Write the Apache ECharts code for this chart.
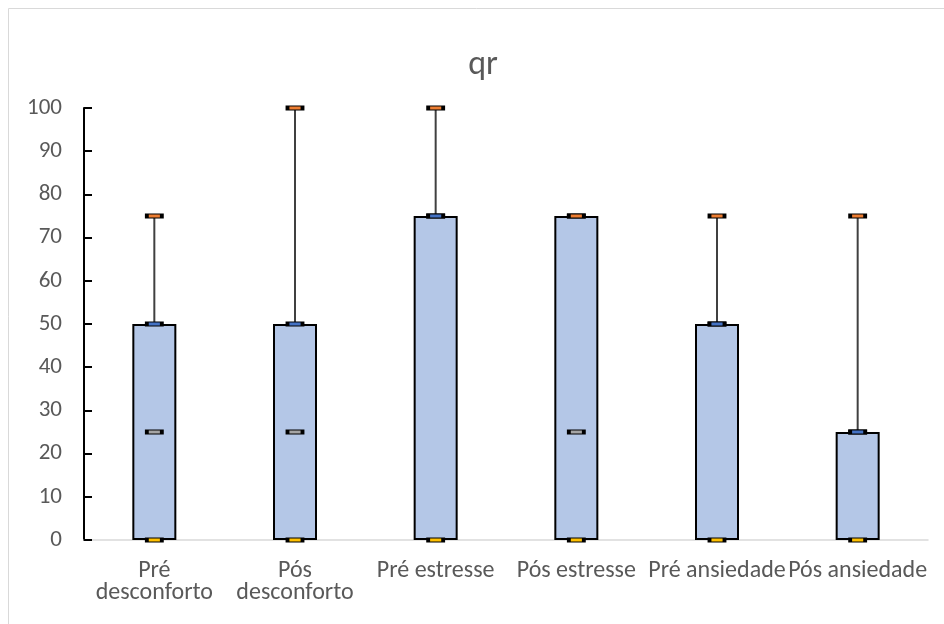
<!DOCTYPE html>
<html>
<head>
<meta charset="utf-8">
<script src="https://cdn.jsdelivr.net/npm/echarts@6/dist/echarts.min.js"></script>
<style>html,body{margin:0;padding:0;background:#fff}#c{width:944px;height:624px}</style>
</head>
<body>
<div id="c"></div>
<script>
const categories = ['Pré\ndesconforto', 'Pós\ndesconforto', 'Pré estresse', 'Pós estresse', 'Pré ansiedade', 'Pós ansiedade'];
const minValues = [0, 0, 0, 0, 0, 0];
const q1Values = [0, 0, 0, 0, 0, 0];
const medianValues = [25, 25, 75, 25, 50, 25];
const q3Values = [50, 50, 75, 75, 50, 25];
const maxValues = [75, 100, 100, 75, 75, 75];
const yTicks = [0, 10, 20, 30, 40, 50, 60, 70, 80, 90, 100];

const FONT = 'Carlito, "Open Sans", "Liberation Sans", sans-serif';
const chart = echarts.init(document.getElementById('c'));

const boxHeights = q3Values.map((v, i) => v - q1Values[i]);
const whiskerData = categories.map((c, i) => [i, q3Values[i], maxValues[i]]);

function markerSeries(name, data, fill) {
  return {
    name: name, type: 'scatter', data: data.map((v, i) => [i, v]),
    symbol: 'rect', symbolSize: [15, 4],
    itemStyle: { color: fill, borderColor: '#000', borderWidth: 2, opacity: 1 },
    z: 5
  };
}

chart.setOption({
  animation: false,
  title: {
    text: 'qr', left: 478, top: 43, textAlign: 'center',
    textStyle: { fontFamily: FONT, fontSize: 34, fontWeight: 'normal', color: '#595959' }
  },
  graphic: [{
    type: 'rect', shape: { x: 8.5, y: 8.5, width: 1000, height: 1000 },
    style: { fill: 'none', stroke: '#d9d9d9', lineWidth: 1 }, z: -1, silent: true
  }],
  grid: { left: 84, right: 16, top: 108, bottom: 84 },
  xAxis: {
    type: 'category', data: categories,
    axisLine: { show: true, lineStyle: { color: '#d9d9d9', width: 1.5 } },
    axisTick: { show: false },
    axisLabel: { fontFamily: FONT, fontSize: 24, color: '#595959', margin: 20, lineHeight: 22, interval: 0 }
  },
  yAxis: {
    type: 'value', min: 0, max: 100, interval: 10,
    axisLine: { show: true, lineStyle: { color: '#000', width: 2 } },
    axisTick: { show: true, inside: true, length: 8, lineStyle: { color: '#000', width: 2 } },
    splitLine: { show: false },
    axisLabel: {
      fontFamily: FONT, fontSize: 23, color: '#595959', margin: 22,
      formatter: v => yTicks.includes(v) ? String(v) : ''
    }
  },
  series: [
    {
      type: 'bar', stack: 'box', data: q1Values, barWidth: 44,
      itemStyle: { color: 'transparent' }, silent: true
    },
    {
      type: 'bar', stack: 'box', data: boxHeights, barWidth: 44,
      itemStyle: { color: '#b4c7e7', borderColor: '#000', borderWidth: 2 }
    },
    {
      type: 'custom', data: whiskerData, z: 3,
      renderItem: function (params, api) {
        const p1 = api.coord([api.value(0), api.value(1)]);
        const p2 = api.coord([api.value(0), api.value(2)]);
        return {
          type: 'line',
          shape: { x1: p1[0], y1: p1[1], x2: p2[0], y2: p2[1] },
          style: { stroke: '#404040', lineWidth: 2 }
        };
      }
    },
    markerSeries('Median', medianValues, '#a5a5a5'),
    markerSeries('Q3', q3Values, '#4472c4'),
    markerSeries('Max', maxValues, '#ed7d31'),
    markerSeries('Min', minValues, '#ffc000')
  ]
});
</script>
</body>
</html>
